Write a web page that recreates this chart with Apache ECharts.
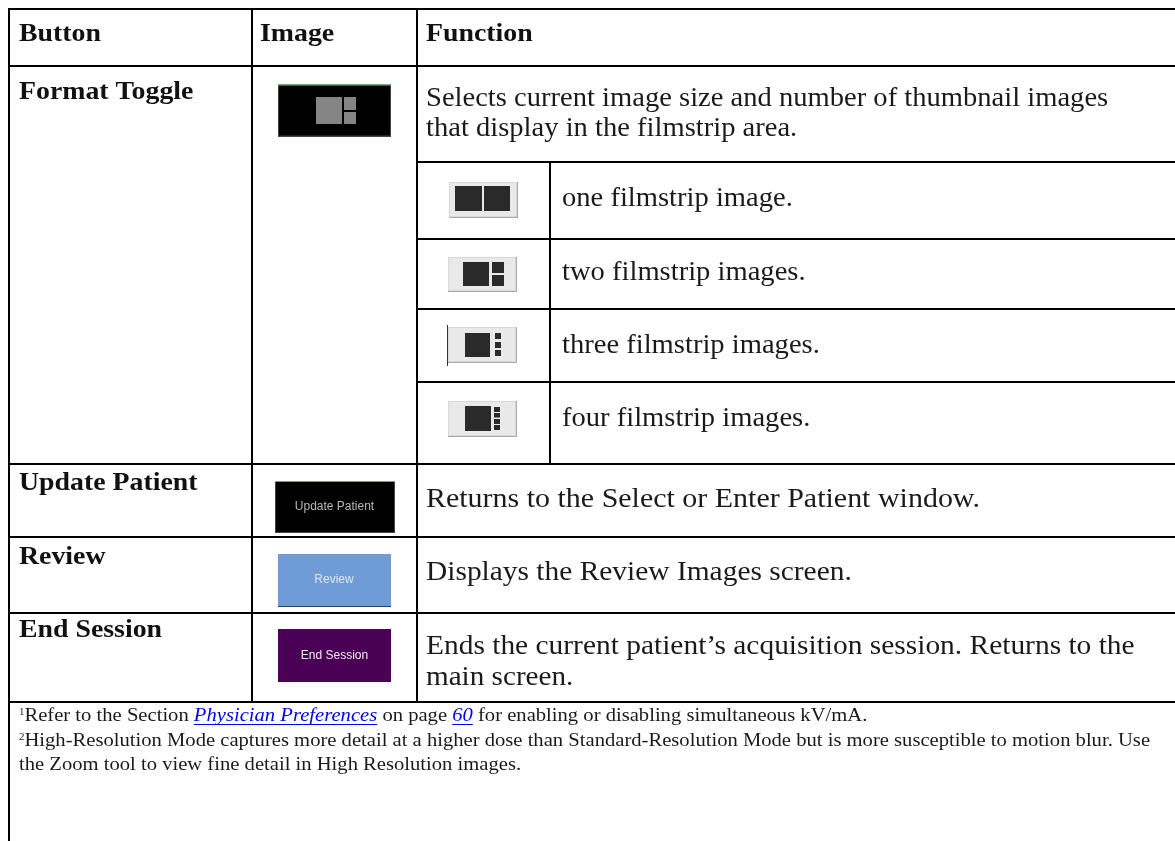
<!DOCTYPE html>
<html>
<head>
<meta charset="utf-8">
<style>html,body{margin:0;padding:0;background:#fff}#main{width:1175px;height:841px}</style>
<script src="https://cdn.jsdelivr.net/npm/echarts@6/dist/echarts.min.js"></script>
</head>
<body>
<div id="main"></div>
<script>
// table content
const headers = ['Button', 'Image', 'Function'];
const buttonNames = ['Format Toggle', 'Update Patient', 'Review', 'End Session'];
const formatToggleText = ['Selects current image size and number of thumbnail images', 'that display in the filmstrip area.'];
const filmstripOptions = ['one filmstrip image.', 'two filmstrip images.', 'three filmstrip images.', 'four filmstrip images.'];
const functionTexts = ['Returns to the Select or Enter Patient window.', 'Displays the Review Images screen.',
  'Ends the current patient\u2019s acquisition session. Returns to the', 'main screen.'];
const imageCaptions = ['Update Patient', 'Review', 'End Session'];
const footnotes = [
  ['1', 'Refer to the Section ', 'Physician Preferences', ' on page ', '60', ' for enabling or disabling simultaneous kV/mA.'],
  ['2', 'High-Resolution Mode captures more detail at a higher dose than Standard-Resolution Mode but is more susceptible to motion blur. Use'],
  ['', 'the Zoom tool to view fine detail in High Resolution images.']
];

// table layout, in page pixels
const colX = [9, 252, 417, 550, 1175];
const rowY = [9, 66, 162, 239, 309, 382, 464, 537, 613, 702];
const RULE = 2;
const BODY_FONT = '"Liberation Serif", serif';
const BODY = { size: 27, sx: 1.058 };
const HEAD = { size: 25, sx: 1.113 };
const NOTE = { size: 19, sx: 1.085 };
// the original face runs wider on these lines than Liberation Serif does
const functionStretch = [1.11, 1.09, 1.09, 1.08];

const chart = echarts.init(document.getElementById('main'));

function rule(api, x1, y1, x2, y2) {
  const a = api.coord([x1, y1]), b = api.coord([x2, y2]);
  return { type: 'line', shape: { x1: a[0], y1: a[1], x2: b[0], y2: b[1] }, style: { stroke: '#000', lineWidth: RULE } };
}
function box(api, x1, y1, x2, y2, fill) {
  const a = api.coord([x1, y1]), b = api.coord([x2, y2]);
  return { type: 'rect', shape: { x: a[0], y: a[1], width: b[0] - a[0], height: b[1] - a[1] }, style: { fill: fill } };
}
// y is the text baseline; zrender only places from the top, hence the offset
function label(api, x, y, text, size, sx, opts) {
  const a = api.coord([x, y - size * 0.78]);
  return { type: 'text', x: a[0], y: a[1], scaleX: sx, style: Object.assign({
    text: text, fill: '#1a1a1a', font: size + 'px ' + BODY_FONT, textAlign: 'left', textBaseline: 'top'
  }, opts || {}) };
}

function tableRules(api) {
  const c = colX, r = rowY;
  return { type: 'group', children: [
    rule(api, c[0] - 1, r[0], c[4], r[0]),
    rule(api, c[0], r[1], c[4], r[1]),
    rule(api, c[2], r[2], c[4], r[2]),
    rule(api, c[2], r[3], c[4], r[3]),
    rule(api, c[2], r[4], c[4], r[4]),
    rule(api, c[2], r[5], c[4], r[5]),
    rule(api, c[0], r[6], c[4], r[6]),
    rule(api, c[0], r[7], c[4], r[7]),
    rule(api, c[0], r[8], c[4], r[8]),
    rule(api, c[0], r[9], c[4], r[9]),
    rule(api, c[0], r[0], c[0], 841),
    rule(api, c[1], r[0], c[1], r[9]),
    rule(api, c[2], r[0], c[2], r[9]),
    rule(api, c[3], r[2], c[3], r[6])
  ] };
}

function tableText(api) {
  const items = [];
  const bold = { font: 'bold ' + HEAD.size + 'px ' + BODY_FONT, fill: '#111' };
  const head = (x, y, t) => items.push(label(api, x, y, t, HEAD.size, HEAD.sx, bold));
  const body = (x, y, t, sx) => items.push(label(api, x, y, t, BODY.size, sx || BODY.sx));
  headers.forEach((h, i) => head([19, 260, 426][i], 42, h));
  [100, 491, 565, 638].forEach((y, i) => head(19, y, buttonNames[i]));
  body(426, 106, formatToggleText[0]);
  body(426, 136, formatToggleText[1]);
  [206, 280, 353, 426].forEach((y, i) => body(562, y, filmstripOptions[i]));
  [507, 580, 654, 685].forEach((y, i) => body(426, y, functionTexts[i], functionStretch[i]));
  // footnotes, runs placed one after another
  const ctx = document.createElement('canvas').getContext('2d');
  [721, 746, 770].forEach((y, n) => {
    let x = 19;
    footnotes[n].forEach((run, i) => {
      if (!run) return;
      const sup = i === 0;
      const link = n === 0 && (i === 2 || i === 4);
      const size = sup ? 10 : NOTE.size;
      const font = (link ? 'italic ' : '') + size + 'px ' + BODY_FONT;
      ctx.font = font;
      const w = ctx.measureText(run).width * NOTE.sx;
      items.push(label(api, x, sup ? y - 6 : y, run, size, NOTE.sx, { font: font, fill: link ? '#0000ee' : '#1a1a1a' }));
      if (link) {
        items.push({ type: 'line', shape: { x1: x, y1: y + 3.5, x2: x + w, y2: y + 3.5 }, style: { stroke: '#0000ee', lineWidth: 1 } });
      }
      x += w;
    });
  });
  return { type: 'group', children: items };
}

// light raised thumbnail button, shaded on the bottom and right
function bevel(api, items, x1, y1, x2, y2) {
  items.push(box(api, x1, y1, x2, y2, '#a9a9a9'));
  items.push(box(api, x1, y1, x2 - 1, y2 - 1, '#d8d8d8'));
  items.push(box(api, x1 + 1, y1 + 1, x2 - 2, y2 - 2, '#e9e9e9'));
}

function tableIcons(api) {
  const items = [];
  const dark = '#2a2a2a';
  // format toggle
  items.push(box(api, 278, 84, 391, 137, '#444'));
  items.push(box(api, 279, 85.5, 390, 135.5, '#000'));
  items.push(box(api, 278, 84, 391, 85.5, '#6aa878'));
  items.push(box(api, 316, 97, 342, 124, '#848484'));
  items.push(box(api, 344, 97, 356, 110, '#848484'));
  items.push(box(api, 344, 112, 356, 124, '#848484'));
  // one
  bevel(api, items, 449, 182, 518, 218);
  items.push(box(api, 455, 186, 482, 211, dark));
  items.push(box(api, 484, 186, 510, 211, dark));
  // two
  bevel(api, items, 448, 257, 517, 292);
  items.push(box(api, 463, 262, 489, 286, dark));
  items.push(box(api, 492, 262, 504, 273, dark));
  items.push(box(api, 492, 275, 504, 286, dark));
  // three
  bevel(api, items, 448, 327, 517, 363);
  items.push(box(api, 447, 325, 448, 366, '#333'));
  items.push(box(api, 465, 333, 490, 357, dark));
  items.push(box(api, 495, 333, 501, 339, dark));
  items.push(box(api, 495, 342, 501, 348, dark));
  items.push(box(api, 495, 350, 501, 356, dark));
  // four
  bevel(api, items, 448, 401, 517, 437);
  items.push(box(api, 465, 406, 491, 431, dark));
  items.push(box(api, 494, 407, 500, 412, dark));
  items.push(box(api, 494, 413, 500, 417.5, dark));
  items.push(box(api, 494, 419, 500, 424, dark));
  items.push(box(api, 494, 425, 500, 430, dark));
  // captioned buttons
  items.push(box(api, 275, 481, 395, 533, '#444'));
  items.push(box(api, 276, 482, 394, 532, '#000'));
  items.push(box(api, 275, 481, 395, 482, '#6aa878'));
  items.push(box(api, 278, 554, 391, 607, '#6f9bd6'));
  items.push(box(api, 278, 606, 391, 607, '#2a3f5f'));
  items.push(box(api, 278, 629, 391, 682, '#4a0055'));
  const sans = '"Liberation Sans", sans-serif';
  const caption = (i, cx, y, fill) => items.push(label(api, cx, y, imageCaptions[i], 12, 1,
    { font: '12px ' + sans, fill: fill, textAlign: 'center' }));
  caption(0, 334.5, 510, '#b8b8b8');
  caption(1, 334, 583, '#dfe8f5');
  caption(2, 334.5, 659, '#eee');
  return { type: 'group', children: items };
}

chart.setOption({
  animation: false,
  backgroundColor: '#fff',
  grid: { left: 0, right: 0, top: 0, bottom: 0 },
  xAxis: { type: 'value', min: 0, max: 1175, show: false },
  yAxis: { type: 'value', min: 0, max: 841, inverse: true, show: false },
  series: [
    { type: 'custom', coordinateSystem: 'cartesian2d', data: [[0, 0]], silent: true, clip: false, renderItem: (p, api) => tableIcons(api) },
    { type: 'custom', coordinateSystem: 'cartesian2d', data: [[0, 0]], silent: true, clip: false, renderItem: (p, api) => tableRules(api) },
    { type: 'custom', coordinateSystem: 'cartesian2d', data: [[0, 0]], silent: true, clip: false, renderItem: (p, api) => tableText(api) }
  ]
});
</script>
</body>
</html>
